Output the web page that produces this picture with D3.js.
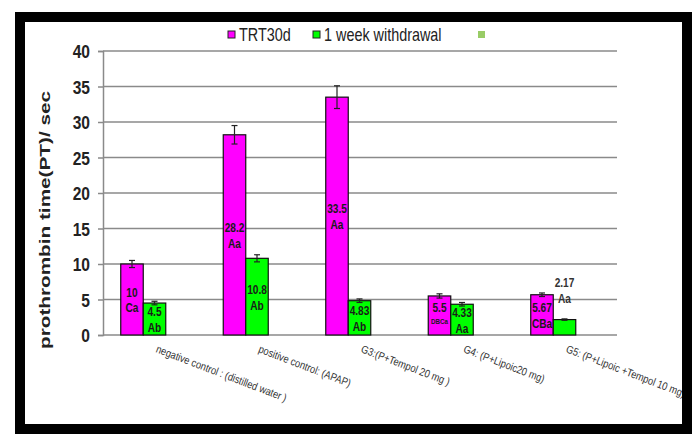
<!DOCTYPE html>
<html>
<head>
<meta charset="utf-8">
<script src="https://cdn.jsdelivr.net/npm/d3@7"></script>
<style>
  body { margin: 0; background: #fff; }
  svg text { font-family: "Liberation Sans", Arial, sans-serif; }
</style>
</head>
<body>
<div id="chart"></div>
<script>
// categories and values
var groups = ["negative control : (distilled water )", "positive control: (APAP)", "G3:(P+Tempol 20 mg )", "G4: (P+Lipoic20 mg)", "G5: (P+Lipoic +Tempol 10 mg)"];
var seriesNames = ["TRT30d", "1 week withdrawal"];
var trt30d = [10, 28.2, 33.5, 5.5, 5.67];
var withdrawal = [4.5, 10.8, 4.83, 4.33, 2.17];
var trtErr = [0.5, 1.3, 1.6, 0.3, 0.25];
var wdErr = [0.25, 0.5, 0.25, 0.25, 0.1];
var trtLetters = ["Ca", "Aa", "Aa", "DBCa", "CBa"];
var wdLetters = ["Ab", "Ab", "Ab", "Aa", "Aa"];
var yTicks = [0, 5, 10, 15, 20, 25, 30, 35, 40];

var W = 695, H = 434;
var colors = ["#ff00ff", "#00ff00"];
var narrow = 0.78; // the original uses a condensed face

var svg = d3.select("#chart").append("svg")
    .attr("width", W).attr("height", H);

var plot = {left: 103, right: 617, top: 51, bottom: 335};

var y = d3.scaleLinear().domain([0, 40]).range([plot.bottom, plot.top]);
var x = d3.scaleBand().domain(groups).range([92, 604.5]);
var barW = 22.5;

// gridlines
svg.append("g").selectAll("line").data(yTicks).enter().append("line")
    .attr("x1", plot.left).attr("x2", plot.right)
    .attr("y1", d => y(d)).attr("y2", d => y(d))
    .attr("stroke", "#8a8a8a").attr("stroke-width", 1.5);

// y axis
var yAxis = svg.append("g")
    .attr("transform", "translate(" + plot.left + ",0)")
    .call(d3.axisLeft(y).tickValues(yTicks).tickSize(5).tickPadding(0));
yAxis.select(".domain").attr("stroke", "#8a8a8a").attr("stroke-width", 1.5);
yAxis.selectAll(".tick line").attr("stroke", "#8a8a8a").attr("stroke-width", 1.5);
yAxis.selectAll(".tick text")
    .attr("x", 0).attr("dy", "0.36em")
    .attr("transform", "translate(-13,0) scale(0.82,1)")
    .attr("font-size", 19).attr("font-weight", "bold").attr("fill", "#222");

svg.append("text")
    .attr("transform", "translate(50,220) rotate(-90)")
    .attr("text-anchor", "middle")
    .attr("font-size", 15).attr("font-weight", "bold").attr("fill", "#222")
    .attr("textLength", 258).attr("lengthAdjust", "spacingAndGlyphs")
    .text("prothrombin  time(PT)/ sec");

// bars
var bars = [];
groups.forEach(function (g, i) {
    bars.push({g: g, s: 0, v: trt30d[i], e: trtErr[i], lab: trtLetters[i]});
    bars.push({g: g, s: 1, v: withdrawal[i], e: wdErr[i], lab: wdLetters[i]});
});
var bx = d => x(d.g) + x.bandwidth() / 2 + (d.s === 0 ? -barW : 0);

svg.append("g").selectAll("rect").data(bars).enter().append("rect")
    .attr("x", bx).attr("width", barW)
    .attr("y", d => y(d.v)).attr("height", d => y(0) - y(d.v))
    .attr("fill", d => colors[d.s]).attr("stroke", "#111").attr("stroke-width", 1.2);

// error bars
var eb = svg.append("g").attr("stroke", "#222").attr("stroke-width", 1.2);
bars.forEach(function (d) {
    var cx = bx(d) + barW / 2;
    eb.append("line").attr("x1", cx).attr("x2", cx).attr("y1", y(d.v - d.e)).attr("y2", y(d.v + d.e));
    eb.append("line").attr("x1", cx - 3).attr("x2", cx + 3).attr("y1", y(d.v + d.e)).attr("y2", y(d.v + d.e));
    eb.append("line").attr("x1", cx - 3).attr("x2", cx + 3).attr("y1", y(d.v - d.e)).attr("y2", y(d.v - d.e));
});

// value labels
bars.forEach(function (d) {
    var cx = bx(d) + barW / 2;
    var outside = d.v < 3;
    var cy = outside ? y(d.v) - 37 : (y(d.v) + y(0)) / 2 - 7;
    var small = d.lab.length > 3;
    var t = svg.append("text").attr("text-anchor", "middle")
        .attr("transform", "translate(" + cx + "," + cy + ") scale(" + narrow + ",1)")
        .attr("font-weight", "bold").attr("fill", outside ? "#333" : "#1a1a1a");
    t.append("tspan").attr("x", 0).attr("y", 4).attr("font-size", 13).text(d.v);
    t.append("tspan").attr("x", 0).attr("dy", small ? 12 : 16)
        .attr("font-size", small ? 8 : 13).text(d.lab);
});

// x labels (rotated)
svg.append("g").selectAll("text").data(groups).enter().append("text")
    .attr("transform", d => "translate(" + (x(d) + x.bandwidth() / 2 + 12) + ",352) rotate(21) scale(0.85,1)")
    .attr("font-size", 11).attr("fill", "#333")
    .text(d => d);

// legend
var legend = svg.append("g").attr("font-size", 18).attr("fill", "#222");
var lx = [228, 313];
seriesNames.forEach(function (n, i) {
    legend.append("rect").attr("x", lx[i]).attr("y", 31).attr("width", 7).attr("height", 7)
        .attr("fill", colors[i]).attr("stroke", "#222").attr("stroke-width", 1);
    legend.append("text").attr("transform", "translate(" + (lx[i] + 11) + ",41) scale(0.8,1)").text(n);
});
legend.append("rect").attr("x", 478).attr("y", 31).attr("width", 7).attr("height", 7)
    .attr("fill", "#99cc66");

// black frame drawn last so it covers what runs past it
svg.append("path")
    .attr("d", "M0,0H" + W + "V" + H + "H0Z M25,22H682V430H25Z")
    .attr("fill", "#fff").attr("fill-rule", "evenodd");
svg.append("rect").attr("x", 20).attr("y", 17).attr("width", 667).attr("height", 412)
    .attr("fill", "none").attr("stroke", "#000").attr("stroke-width", 10);
svg.append("line").attr("x1", 15).attr("x2", 692).attr("y1", 431).attr("y2", 431)
    .attr("stroke", "#000").attr("stroke-width", 2);
</script>
</body>
</html>
